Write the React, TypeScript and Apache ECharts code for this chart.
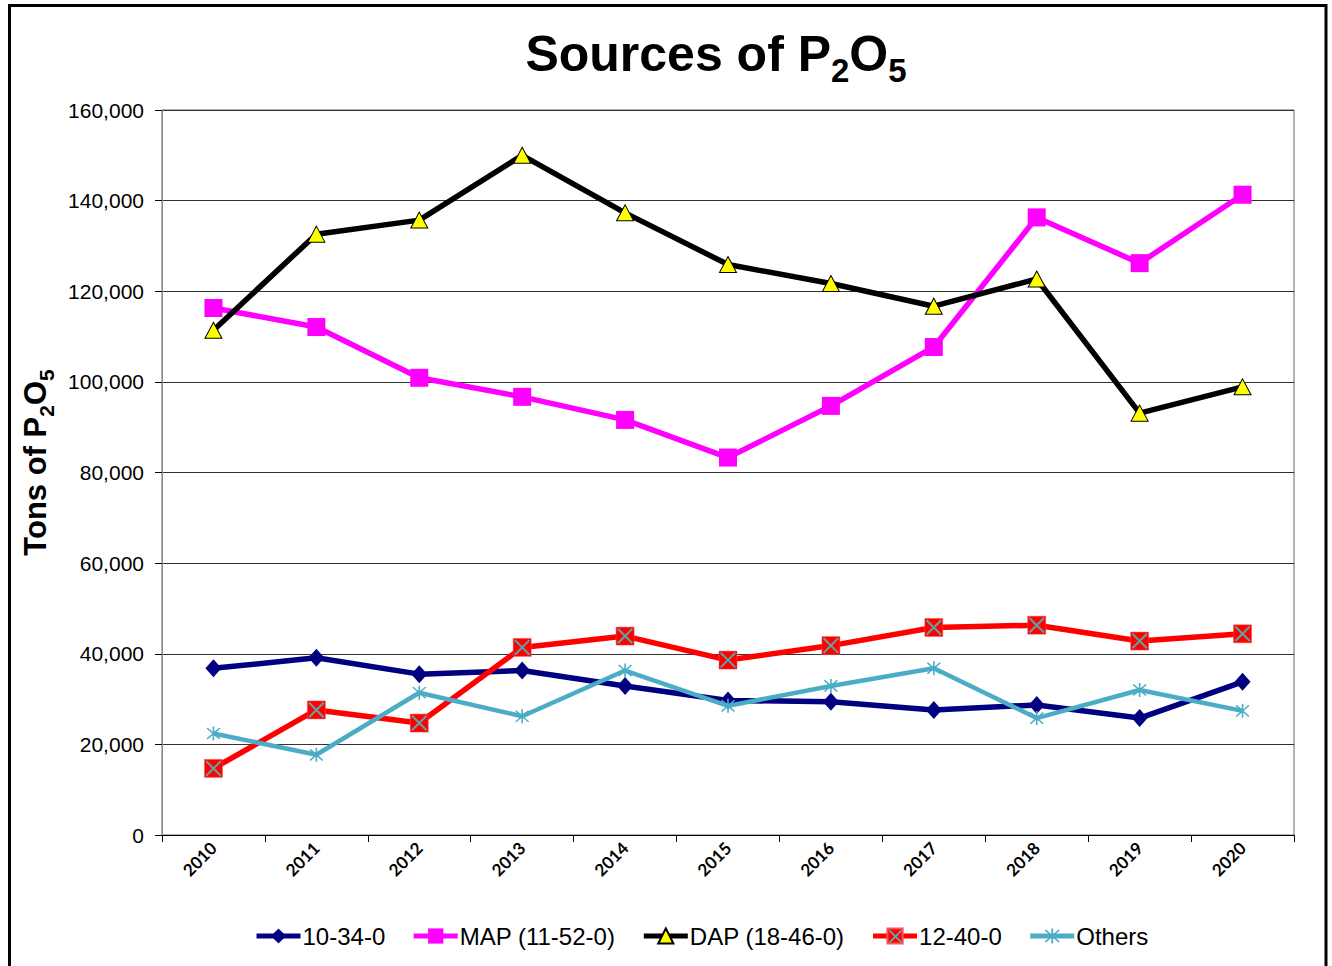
import React, { useEffect, useRef } from "react";
import * as echarts from "echarts";

const years = ["2010", "2011", "2012", "2013", "2014", "2015", "2016", "2017", "2018", "2019", "2020"];
const s1034 = [36800, 39100, 35500, 36300, 32900, 29700, 29400, 27600, 28700, 25800, 33800];
const sMAP = [116300, 112100, 100900, 96700, 91600, 83300, 94700, 107700, 136300, 126200, 141300];
const sDAP = [111400, 132600, 135700, 150000, 137300, 125900, 121700, 116700, 122700, 93100, 98900];
const s12400 = [14700, 27600, 24700, 41400, 43900, 38600, 41800, 45800, 46300, 42800, 44400];
const sOthers = [22400, 17700, 31400, 26200, 36300, 28500, 32900, 36800, 25800, 32000, 27400];
const yMin = 0;
const yMax = 160000;
const yStep = 20000;
const seriesNames = ["10-34-0", "MAP (11-52-0)", "DAP (18-46-0)", "12-40-0", "Others"];

const ASTERISK =
  "path://M4.5 0 L5.5 0 L5.5 10 L4.5 10 Z M0.65 1.35 L1.35 0.65 L9.35 8.65 L8.65 9.35 Z M8.65 0.65 L9.35 1.35 L1.35 9.35 L0.65 8.65 Z";
const XMARK =
  "path://M0.6 1.4 L1.4 0.6 L9.4 8.6 L8.6 9.4 Z M8.6 0.6 L9.4 1.4 L1.4 9.4 L0.6 8.6 Z";

export default function App() {
  const ref = useRef<HTMLDivElement>(null);
  useEffect(() => {
    document.body.style.margin = "0";
    if (!ref.current) return;
    const chart = echarts.init(ref.current, undefined, { renderer: "svg" });
    const font = "'Liberation Sans', Arial, sans-serif";
    const lx = 895.5;
    const ly = 936.5;
    const option: any = {
      animation: false,
      backgroundColor: "#fff",
      title: {
        text: "{a|Sources of P}{s|2}{a|O}{s|5}",
        left: 716,
        top: 21,
        textAlign: "center",
        padding: 0,
        textStyle: {
          rich: {
            a: { fontFamily: font, fontSize: 50, fontWeight: "bold", color: "#000", lineHeight: 66, verticalAlign: "middle" },
            s: { fontFamily: font, fontSize: 33, fontWeight: "bold", color: "#000", lineHeight: 33, verticalAlign: "bottom" },
          },
        },
      },
      graphic: [
        {
          type: "rect",
          shape: { x: 9.5, y: 5.5, width: 1316.5, height: 1000 },
          style: { fill: "none", stroke: "#000", lineWidth: 3 },
          silent: true,
        },
        {
          type: "line",
          z: 100,
          shape: { x1: lx - 6, y1: ly - 6, x2: lx + 6, y2: ly + 6 },
          style: { stroke: "#33CCCC", lineWidth: 1.6 },
          silent: true,
        },
        {
          type: "line",
          z: 100,
          shape: { x1: lx + 6, y1: ly - 6, x2: lx - 6, y2: ly + 6 },
          style: { stroke: "#33CCCC", lineWidth: 1.6 },
          silent: true,
        },
      ],
      grid: {
        left: 162,
        right: 38,
        top: 110,
        bottom: 131,
        show: true,
        borderColor: "#666",
        borderWidth: 1,
      },
      legend: {
        data: seriesNames,
        left: 254,
        top: 924,
        padding: 0,
        itemGap: 26,
        itemWidth: 44,
        itemHeight: 19,
        lineStyle: { width: 5 },
        textStyle: { fontFamily: font, fontSize: 24, color: "#000", padding: [0, 0, 0, -3] },
      },
      xAxis: {
        type: "category",
        data: years,
        boundaryGap: true,
        axisLine: { lineStyle: { color: "#000", width: 1 } },
        axisTick: { show: true, length: 7, interval: 0, lineStyle: { color: "#000" } },
        axisLabel: {
          rotate: 45,
          interval: 0,
          margin: 10,
          fontFamily: "Lato, 'Open Sans', sans-serif",
          fontWeight: "bold",
          fontSize: 17,
          color: "#000",
        },
        splitLine: { show: false },
      },
      yAxis: {
        type: "value",
        min: yMin,
        max: yMax,
        interval: yStep,
        name: "{a|Tons of P}{s|2}{a|O}{s|5}",
        nameLocation: "middle",
        nameGap: 105,
        nameRotate: 90,
        nameTextStyle: {
          padding: [0, 0, 0, 20],
          rich: {
            a: { fontFamily: font, fontSize: 31, fontWeight: "bold", color: "#000", lineHeight: 44, verticalAlign: "middle" },
            s: { fontFamily: font, fontSize: 21, fontWeight: "bold", color: "#000", lineHeight: 21, verticalAlign: "bottom" },
          },
        },
        axisLine: { show: true, lineStyle: { color: "#888", width: 1 } },
        axisTick: { show: true, length: 7, lineStyle: { color: "#000" } },
        axisLabel: {
          margin: 18,
          fontFamily: font,
          fontSize: 21,
          color: "#000",
          formatter: (v: number) => v.toLocaleString("en-US"),
        },
        splitLine: { show: true, lineStyle: { color: "#333", width: 1 } },
      },
      series: [
        {
          name: seriesNames[0],
          type: "line",
          data: s1034,
          symbol: "diamond",
          symbolSize: [16, 18],
          lineStyle: { color: "#000080", width: 5.5 },
          itemStyle: { color: "#000080" },
          z: 2,
        },
        {
          name: seriesNames[1],
          type: "line",
          data: sMAP,
          symbol: "rect",
          symbolSize: 18,
          lineStyle: { color: "#FF00FF", width: 5.5 },
          itemStyle: { color: "#FF00FF" },
          z: 3,
        },
        {
          name: seriesNames[2],
          type: "line",
          data: sDAP,
          symbol: "triangle",
          symbolSize: [17, 16],
          lineStyle: { color: "#000", width: 5.5 },
          itemStyle: { color: "#FFFF00", borderColor: "#000", borderWidth: 1 },
          z: 4,
        },
        {
          name: seriesNames[3],
          type: "line",
          data: s12400,
          symbol: "rect",
          symbolSize: 18,
          lineStyle: { color: "#FF0000", width: 5.5 },
          itemStyle: { color: "#FF0000", borderColor: "#FF5050", borderWidth: 0.5 },
          z: 5,
        },
        {
          name: "12-40-0 mark",
          type: "scatter",
          data: s12400,
          symbol: XMARK,
          symbolSize: 16,
          itemStyle: { color: "#33CCCC" },
          z: 6,
          silent: true,
        },
        {
          name: seriesNames[4],
          type: "line",
          data: sOthers,
          symbol: ASTERISK,
          symbolSize: 14,
          lineStyle: { color: "#4BACC6", width: 4.5 },
          itemStyle: { color: "#4BACC6" },
          z: 7,
        },
      ],
    };
    chart.setOption(option);
    return () => chart.dispose();
  }, []);
  return <div ref={ref} style={{ width: 1332, height: 966 }} />;
}
